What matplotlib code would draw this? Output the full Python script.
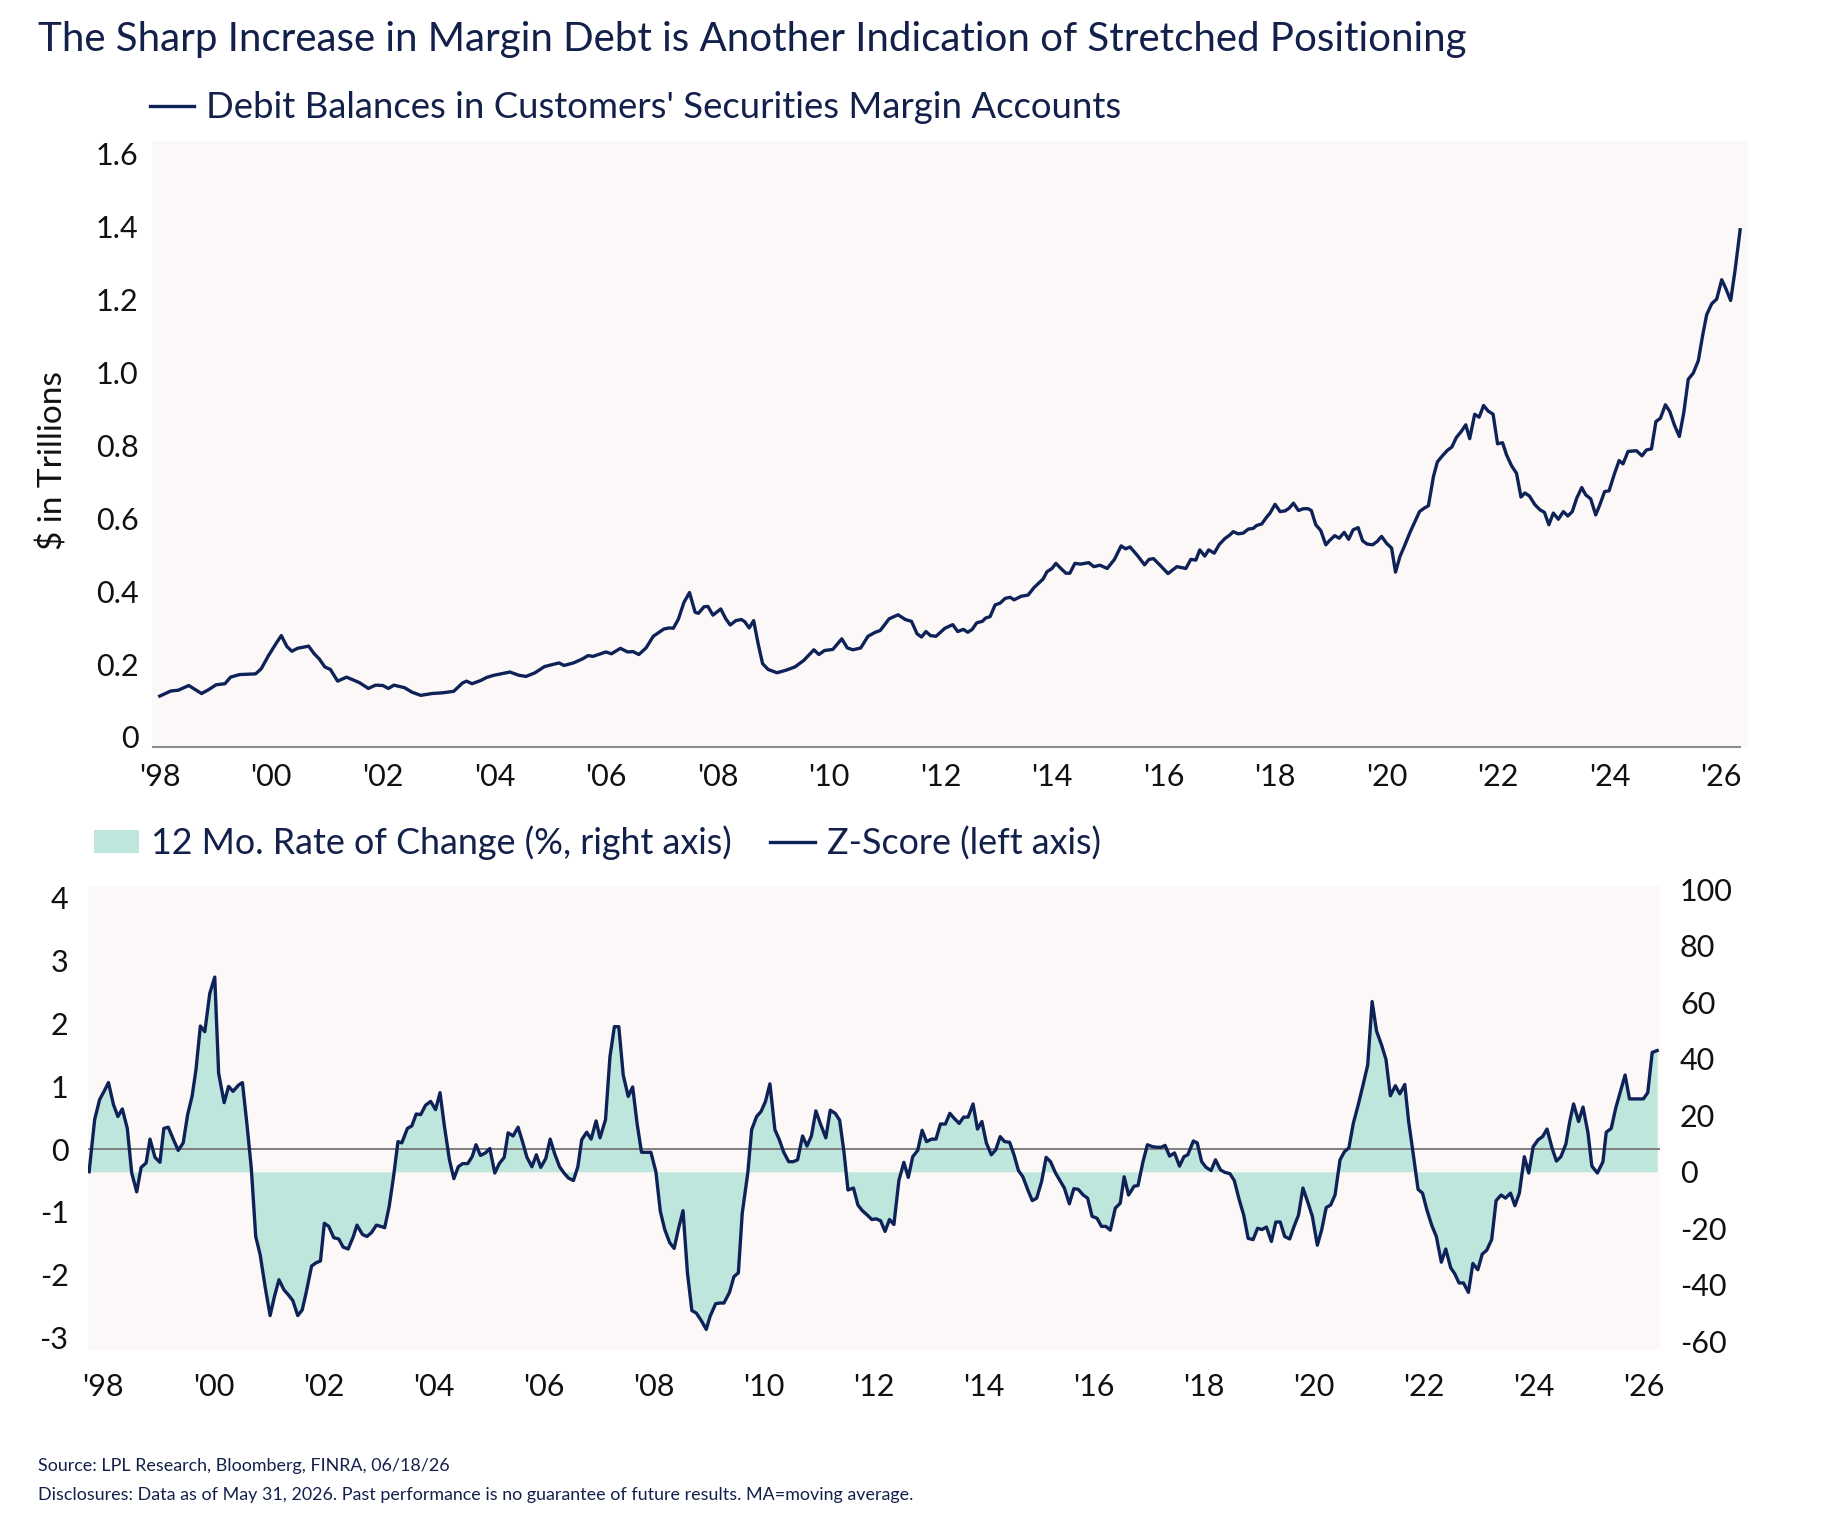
import matplotlib
matplotlib.use("Agg")
import matplotlib.pyplot as plt
from matplotlib.lines import Line2D
from matplotlib.patches import Patch

plt.rcParams['font.family'] = ['Lato', 'DejaVu Sans']

NAVY = '#0e2257'
TEAL = '#bfe6dd'
BG = '#fcf8f7'
TEXT = '#13204a'
TICK = '#111111'

# debit balances, $ trillions (decimal year, value)
debt_year = [
    1998.00, 1998.20, 1998.33, 1998.52, 1998.75, 1998.88, 1999.01, 1999.17, 1999.27, 1999.43,
    1999.72, 1999.82, 1999.95, 2000.08, 2000.18, 2000.28, 2000.37, 2000.47, 2000.67, 2000.77,
    2000.86, 2000.96, 2001.06, 2001.19, 2001.35, 2001.58, 2001.74, 2001.87, 2002.00, 2002.10,
    2002.20, 2002.39, 2002.52, 2002.68, 2002.88, 2003.07, 2003.27, 2003.43, 2003.50, 2003.60,
    2003.76, 2003.86, 2003.99, 2004.28, 2004.44, 2004.57, 2004.73, 2004.90, 2005.16, 2005.25,
    2005.42, 2005.58, 2005.68, 2005.77, 2006.00, 2006.10, 2006.26, 2006.39, 2006.49, 2006.59,
    2006.72, 2006.85, 2007.04, 2007.14, 2007.21, 2007.30, 2007.40, 2007.50, 2007.60, 2007.66,
    2007.76, 2007.83, 2007.92, 2008.06, 2008.15, 2008.23, 2008.33, 2008.43, 2008.49, 2008.57,
    2008.65, 2008.73, 2008.81, 2008.91, 2009.07, 2009.23, 2009.39, 2009.55, 2009.73, 2009.82,
    2009.92, 2010.07, 2010.23, 2010.33, 2010.43, 2010.57, 2010.70, 2010.83, 2010.92, 2011.08,
    2011.24, 2011.37, 2011.48, 2011.58, 2011.66, 2011.74, 2011.82, 2011.92, 2012.08, 2012.22,
    2012.31, 2012.41, 2012.49, 2012.57, 2012.65, 2012.75, 2012.81, 2012.89, 2012.98, 2013.07,
    2013.16, 2013.25, 2013.32, 2013.45, 2013.57, 2013.68, 2013.84, 2013.91, 2014.00, 2014.07,
    2014.16, 2014.25, 2014.32, 2014.41, 2014.51, 2014.66, 2014.75, 2014.86, 2014.99, 2015.12,
    2015.24, 2015.32, 2015.40, 2015.53, 2015.66, 2015.74, 2015.82, 2015.95, 2016.08, 2016.24,
    2016.40, 2016.49, 2016.58, 2016.65, 2016.74, 2016.81, 2016.91, 2017.00, 2017.10, 2017.19,
    2017.25, 2017.34, 2017.43, 2017.52, 2017.61, 2017.67, 2017.76, 2017.85, 2017.91, 2018.00,
    2018.09, 2018.18, 2018.25, 2018.33, 2018.42, 2018.51, 2018.59, 2018.65, 2018.73, 2018.82,
    2018.91, 2018.98, 2019.07, 2019.15, 2019.24, 2019.32, 2019.40, 2019.49, 2019.57, 2019.65,
    2019.75, 2019.83, 2019.91, 2020.00, 2020.09, 2020.16, 2020.24, 2020.33, 2020.42, 2020.51,
    2020.59, 2020.67, 2020.75, 2020.84, 2020.91, 2021.00, 2021.09, 2021.17, 2021.25, 2021.34,
    2021.42, 2021.49, 2021.58, 2021.66, 2021.74, 2021.82, 2021.91, 2021.99, 2022.08, 2022.15,
    2022.24, 2022.33, 2022.41, 2022.48, 2022.56, 2022.66, 2022.75, 2022.83, 2022.91, 2022.99,
    2023.08, 2023.17, 2023.25, 2023.33, 2023.41, 2023.50, 2023.57, 2023.66, 2023.75, 2023.82,
    2023.91, 2023.99, 2024.08, 2024.17, 2024.24, 2024.33, 2024.48, 2024.58, 2024.66, 2024.75,
    2024.83, 2024.91, 2025.00, 2025.08, 2025.16, 2025.25, 2025.33, 2025.41, 2025.50, 2025.59,
    2025.67, 2025.74, 2025.83, 2025.92, 2026.01, 2026.08, 2026.17, 2026.25, 2026.34,
]
debt_val = [
    0.112, 0.126, 0.128, 0.141, 0.119, 0.130, 0.143, 0.146, 0.164, 0.171,
    0.173, 0.187, 0.223, 0.255, 0.278, 0.248, 0.235, 0.243, 0.249, 0.228,
    0.214, 0.192, 0.185, 0.153, 0.164, 0.149, 0.133, 0.142, 0.141, 0.133,
    0.142, 0.135, 0.123, 0.114, 0.119, 0.121, 0.125, 0.148, 0.153, 0.146,
    0.155, 0.163, 0.169, 0.178, 0.169, 0.166, 0.176, 0.193, 0.203, 0.196,
    0.203, 0.214, 0.223, 0.221, 0.233, 0.228, 0.243, 0.233, 0.234, 0.226,
    0.244, 0.276, 0.296, 0.299, 0.298, 0.323, 0.369, 0.396, 0.342, 0.339,
    0.357, 0.358, 0.334, 0.351, 0.324, 0.307, 0.319, 0.322, 0.316, 0.299,
    0.319, 0.256, 0.201, 0.185, 0.176, 0.183, 0.192, 0.210, 0.239, 0.226,
    0.237, 0.240, 0.269, 0.244, 0.239, 0.244, 0.276, 0.287, 0.292, 0.324,
    0.335, 0.322, 0.317, 0.283, 0.274, 0.289, 0.278, 0.276, 0.298, 0.308,
    0.289, 0.295, 0.287, 0.295, 0.313, 0.317, 0.326, 0.330, 0.362, 0.367,
    0.380, 0.383, 0.376, 0.386, 0.389, 0.410, 0.433, 0.453, 0.462, 0.476,
    0.462, 0.449, 0.449, 0.476, 0.474, 0.478, 0.467, 0.471, 0.462, 0.487,
    0.524, 0.516, 0.521, 0.498, 0.472, 0.487, 0.489, 0.469, 0.448, 0.467,
    0.462, 0.487, 0.485, 0.513, 0.496, 0.513, 0.504, 0.528, 0.544, 0.554,
    0.563, 0.557, 0.559, 0.570, 0.572, 0.580, 0.584, 0.603, 0.614, 0.638,
    0.618, 0.620, 0.627, 0.641, 0.621, 0.626, 0.626, 0.621, 0.582, 0.566,
    0.527, 0.539, 0.552, 0.545, 0.561, 0.542, 0.568, 0.574, 0.538, 0.529,
    0.527, 0.536, 0.550, 0.531, 0.518, 0.452, 0.495, 0.527, 0.561, 0.591,
    0.618, 0.627, 0.634, 0.714, 0.754, 0.771, 0.786, 0.795, 0.821, 0.838,
    0.856, 0.818, 0.885, 0.877, 0.909, 0.894, 0.885, 0.804, 0.807, 0.774,
    0.744, 0.723, 0.658, 0.669, 0.661, 0.637, 0.623, 0.616, 0.582, 0.614,
    0.597, 0.618, 0.606, 0.618, 0.655, 0.684, 0.664, 0.653, 0.609, 0.635,
    0.673, 0.675, 0.719, 0.758, 0.749, 0.783, 0.785, 0.771, 0.787, 0.790,
    0.865, 0.874, 0.911, 0.892, 0.856, 0.824, 0.890, 0.981, 0.998, 1.032,
    1.103, 1.158, 1.188, 1.201, 1.254, 1.231, 1.197, 1.281, 1.391,
]

# z-score of the 12 month rate of change (decimal year, value)
z_year = [
    1998.00, 1998.10, 1998.19, 1998.27, 1998.35, 1998.44, 1998.52, 1998.60, 1998.69, 1998.77,
    1998.86, 1998.94, 1999.03, 1999.10, 1999.19, 1999.28, 1999.35, 1999.43, 1999.53, 1999.61,
    1999.70, 1999.78, 1999.86, 1999.93, 2000.01, 2000.09, 2000.18, 2000.27, 2000.34, 2000.44,
    2000.52, 2000.60, 2000.70, 2000.77, 2000.85, 2000.93, 2001.01, 2001.09, 2001.18, 2001.27,
    2001.35, 2001.43, 2001.52, 2001.60, 2001.68, 2001.77, 2001.85, 2001.92, 2002.02, 2002.10,
    2002.18, 2002.25, 2002.33, 2002.42, 2002.51, 2002.59, 2002.68, 2002.77, 2002.84, 2002.94,
    2003.02, 2003.10, 2003.19, 2003.27, 2003.34, 2003.42, 2003.50, 2003.58, 2003.65, 2003.75,
    2003.83, 2003.91, 2003.99, 2004.08, 2004.17, 2004.26, 2004.34, 2004.42, 2004.51, 2004.59,
    2004.67, 2004.75, 2004.84, 2004.92, 2004.99, 2005.07, 2005.16, 2005.24, 2005.33, 2005.41,
    2005.50, 2005.57, 2005.66, 2005.75, 2005.83, 2005.91, 2006.00, 2006.08, 2006.16, 2006.25,
    2006.33, 2006.41, 2006.50, 2006.58, 2006.66, 2006.75, 2006.83, 2006.90, 2006.99, 2007.07,
    2007.16, 2007.23, 2007.33, 2007.41, 2007.49, 2007.57, 2007.65, 2007.74, 2007.82, 2007.90,
    2007.98, 2008.07, 2008.15, 2008.24, 2008.32, 2008.40, 2008.49, 2008.57, 2008.65, 2008.73,
    2008.81, 2008.89, 2008.97, 2009.06, 2009.15, 2009.22, 2009.32, 2009.40, 2009.47, 2009.57,
    2009.65, 2009.73, 2009.80, 2009.90, 2009.97, 2010.06, 2010.14, 2010.22, 2010.30, 2010.39,
    2010.47, 2010.55, 2010.64, 2010.72, 2010.80, 2010.89, 2010.97, 2011.05, 2011.13, 2011.21,
    2011.31, 2011.39, 2011.48, 2011.56, 2011.64, 2011.71, 2011.81, 2011.89, 2011.97, 2012.06,
    2012.14, 2012.22, 2012.30, 2012.38, 2012.46, 2012.54, 2012.63, 2012.72, 2012.80, 2012.88,
    2012.97, 2013.05, 2013.13, 2013.22, 2013.30, 2013.38, 2013.47, 2013.55, 2013.63, 2013.72,
    2013.80, 2013.88, 2013.97, 2014.05, 2014.13, 2014.21, 2014.30, 2014.38, 2014.46, 2014.54,
    2014.63, 2014.71, 2014.79, 2014.87, 2014.96, 2015.04, 2015.12, 2015.21, 2015.29, 2015.37,
    2015.46, 2015.54, 2015.62, 2015.71, 2015.79, 2015.87, 2015.96, 2016.04, 2016.12, 2016.21,
    2016.29, 2016.37, 2016.45, 2016.54, 2016.63, 2016.70, 2016.78, 2016.88, 2016.95, 2017.04,
    2017.12, 2017.21, 2017.29, 2017.37, 2017.44, 2017.52, 2017.61, 2017.70, 2017.78, 2017.85,
    2017.95, 2018.02, 2018.10, 2018.18, 2018.27, 2018.35, 2018.44, 2018.52, 2018.61, 2018.69,
    2018.78, 2018.86, 2018.94, 2019.03, 2019.11, 2019.19, 2019.27, 2019.36, 2019.44, 2019.52,
    2019.60, 2019.69, 2019.77, 2019.85, 2019.93, 2020.02, 2020.10, 2020.19, 2020.27, 2020.35,
    2020.43, 2020.51, 2020.60, 2020.68, 2020.76, 2020.84, 2020.93, 2021.01, 2021.10, 2021.18,
    2021.26, 2021.35, 2021.43, 2021.51, 2021.60, 2021.68, 2021.77, 2021.84, 2021.92, 2022.01,
    2022.09, 2022.17, 2022.26, 2022.34, 2022.43, 2022.51, 2022.60, 2022.67, 2022.75, 2022.83,
    2022.92, 2023.00, 2023.09, 2023.17, 2023.25, 2023.34, 2023.42, 2023.51, 2023.59, 2023.68,
    2023.76, 2023.84, 2023.93, 2024.01, 2024.09, 2024.18, 2024.26, 2024.34, 2024.43, 2024.51,
    2024.59, 2024.68, 2024.75, 2024.82, 2024.91, 2024.99, 2025.08, 2025.15, 2025.25, 2025.35,
    2025.41, 2025.50, 2025.58, 2025.66, 2025.75, 2025.83, 2025.91, 2026.00, 2026.08, 2026.16,
    2026.24, 2026.33,
]
z_val = [
    -0.36, 0.47, 0.79, 0.92, 1.06, 0.71, 0.52, 0.64, 0.33, -0.38,
    -0.68, -0.29, -0.22, 0.16, -0.13, -0.21, 0.33, 0.35, 0.14, -0.02,
    0.10, 0.55, 0.84, 1.26, 1.96, 1.87, 2.48, 2.74, 1.21, 0.74,
    1.00, 0.92, 1.02, 1.06, 0.41, -0.30, -1.39, -1.68, -2.19, -2.65,
    -2.34, -2.08, -2.24, -2.32, -2.41, -2.65, -2.56, -2.29, -1.86, -1.81,
    -1.78, -1.18, -1.23, -1.41, -1.43, -1.56, -1.59, -1.40, -1.21, -1.36,
    -1.39, -1.33, -1.21, -1.23, -1.25, -0.92, -0.44, 0.12, 0.10, 0.33,
    0.37, 0.56, 0.55, 0.70, 0.76, 0.63, 0.90, 0.36, -0.17, -0.47,
    -0.28, -0.23, -0.23, -0.12, 0.07, -0.10, -0.06, 0.01, -0.38, -0.23,
    -0.13, 0.26, 0.21, 0.35, 0.12, -0.13, -0.28, -0.09, -0.29, -0.15,
    0.16, -0.07, -0.28, -0.38, -0.46, -0.50, -0.28, 0.15, 0.27, 0.16,
    0.45, 0.18, 0.47, 1.47, 1.95, 1.95, 1.18, 0.84, 0.99, 0.41,
    -0.05, -0.05, -0.05, -0.36, -0.99, -1.28, -1.49, -1.58, -1.26, -0.98,
    -1.97, -2.57, -2.61, -2.73, -2.87, -2.66, -2.46, -2.45, -2.45, -2.28,
    -2.03, -1.97, -1.02, -0.38, 0.31, 0.52, 0.60, 0.76, 1.04, 0.31,
    0.15, -0.05, -0.20, -0.20, -0.17, 0.21, 0.05, 0.21, 0.61, 0.41,
    0.18, 0.62, 0.57, 0.46, -0.06, -0.65, -0.62, -0.89, -0.98, -1.05,
    -1.12, -1.11, -1.14, -1.31, -1.12, -1.20, -0.50, -0.21, -0.45, -0.12,
    -0.02, 0.30, 0.12, 0.16, 0.16, 0.40, 0.40, 0.57, 0.49, 0.41,
    0.51, 0.51, 0.72, 0.32, 0.44, 0.10, -0.09, -0.01, 0.20, 0.12,
    0.11, -0.09, -0.34, -0.44, -0.65, -0.82, -0.78, -0.51, -0.13, -0.20,
    -0.38, -0.50, -0.62, -0.87, -0.63, -0.64, -0.73, -0.78, -1.07, -1.10,
    -1.23, -1.23, -1.29, -0.94, -0.86, -0.44, -0.73, -0.59, -0.58, -0.20,
    0.07, 0.04, 0.03, 0.03, 0.06, -0.11, -0.06, -0.27, -0.12, -0.09,
    0.13, 0.10, -0.20, -0.29, -0.34, -0.17, -0.33, -0.37, -0.39, -0.50,
    -0.81, -1.05, -1.42, -1.44, -1.26, -1.28, -1.24, -1.47, -1.16, -1.16,
    -1.39, -1.43, -1.23, -1.05, -0.62, -0.85, -1.07, -1.53, -1.28, -0.93,
    -0.89, -0.73, -0.17, -0.04, 0.02, 0.41, 0.71, 1.00, 1.34, 2.35,
    1.88, 1.66, 1.43, 0.85, 1.01, 0.88, 1.03, 0.44, -0.06, -0.64,
    -0.70, -0.97, -1.22, -1.39, -1.80, -1.59, -1.89, -1.98, -2.13, -2.13,
    -2.28, -1.82, -1.92, -1.67, -1.61, -1.44, -0.82, -0.73, -0.78, -0.70,
    -0.90, -0.70, -0.12, -0.38, 0.04, 0.15, 0.20, 0.32, 0.02, -0.19,
    -0.12, 0.08, 0.44, 0.72, 0.44, 0.67, 0.26, -0.27, -0.38, -0.20,
    0.27, 0.33, 0.65, 0.90, 1.18, 0.80, 0.80, 0.80, 0.80, 0.90,
    1.54, 1.57,
]

# the right axis is the same series in % terms: roc = ROC_MEAN + ROC_STD * z
ROC_MEAN = 8.0
ROC_STD = 22.3

debt_ticks = [0, 0.2, 0.4, 0.6, 0.8, 1.0, 1.2, 1.4, 1.6]
debt_labels = ['0', '0.2', '0.4', '0.6', '0.8', '1.0', '1.2', '1.4', '1.6']
z_ticks = [-3, -2, -1, 0, 1, 2, 3, 4]
roc_ticks = [-60, -40, -20, 0, 20, 40, 60, 80, 100]
years = list(range(1998, 2027, 2))
year_labels = ["'%02d" % (y % 100) for y in years]

title = 'The Sharp Increase in Margin Debt is Another Indication of Stretched Positioning'
debt_name = "Debit Balances in Customers' Securities Margin Accounts"
roc_name = '12 Mo. Rate of Change (%, right axis)'
z_name = 'Z-Score (left axis)'

W, H = 1840, 1524
fig = plt.figure(figsize=(W / 100, H / 100), dpi=100)


def px(x, y):
    # pixel position in the picture -> figure fraction
    return x / W, 1 - y / H


###############################
# top panel: margin debt level
###############################
ax1 = fig.add_axes([152.5 / W, 1 - 747.5 / H, 1596 / W, 606.7 / H])
ax1.set_facecolor(BG)
ax1.plot(debt_year, debt_val, color=NAVY, lw=2.4, solid_joinstyle='round')
ax1.set_xlim(1997.87, 2026.49)
ax1.set_ylim(-0.029, 1.635)
for s in ['top', 'right', 'left']:
    ax1.spines[s].set_visible(False)
ax1.spines['bottom'].set_color('#8c8c8c')
ax1.spines['bottom'].set_linewidth(1.5)
ax1.spines['bottom'].set_bounds(1997.87, 2026.34)
ax1.set_yticks(debt_ticks)
ax1.set_yticklabels(debt_labels)
ax1.set_xticks(years)
ax1.set_xticklabels(year_labels)
ax1.tick_params(length=0, labelsize=22, labelcolor=TICK)
ax1.tick_params(axis='y', pad=10)
ax1.tick_params(axis='x', pad=11)

###############################
# bottom panel: z-score and 12 mo. change
###############################
ax2 = fig.add_axes([88 / W, 1 - 1349.5 / H, 1572.5 / W, 463.5 / H])
ax2r = ax2.twinx()
ax2.set_zorder(ax2r.get_zorder() + 1)
ax2.patch.set_visible(False)
ax2r.patch.set_visible(True)
ax2r.set_facecolor(BG)

roc_val = [ROC_MEAN + ROC_STD * z for z in z_val]
ax2r.fill_between(z_year, roc_val, 0, color=TEAL, lw=0)
ax2.axhline(0, color='#7f7f7f', lw=1.4, zorder=1)
ax2.plot(z_year, z_val, color=NAVY, lw=2.4, solid_joinstyle='round', zorder=3)

ax2.set_xlim(1997.98, 2026.39)
ax2.set_ylim(-3.19, 4.19)
ax2r.set_ylim(-62.9, 101.2)
for a in (ax2, ax2r):
    for s in a.spines.values():
        s.set_visible(False)
ax2.set_yticks(z_ticks)
ax2.set_yticklabels([str(t) for t in z_ticks])
ax2r.set_yticks(roc_ticks)
ax2r.set_yticklabels([str(t) for t in roc_ticks])

# the year labels below this panel sit a little right of the data dates
bx = [1998 + (103.3 + (y - 1998) * 55.0 - 89) / 55.35 for y in years]
ax2.set_xticks(bx)
ax2.set_xticklabels(year_labels)
ax2.tick_params(length=0, labelsize=22, labelcolor=TICK)
ax2.tick_params(axis='y', pad=14)
ax2.tick_params(axis='x', pad=17)
ax2r.tick_params(length=0, labelsize=22, labelcolor=TICK, pad=14)

###############################
# text
###############################
fig.text(*px(38, 39), title, fontsize=29, color=TEXT, va='center', ha='left')

fig.legend([Line2D([], [], color=NAVY, lw=2.4)], [debt_name],
           loc='center left', bbox_to_anchor=px(150, 108), frameon=False,
           fontsize=26.3, labelcolor=TEXT, handlelength=1.2, handletextpad=0.33,
           borderpad=0, borderaxespad=0)

fig.legend([Patch(facecolor=TEAL, edgecolor='none'), Line2D([], [], color=NAVY, lw=2.4)],
           [roc_name, z_name], ncol=2,
           loc='center left', bbox_to_anchor=px(94, 843), frameon=False,
           fontsize=25.8, labelcolor=TEXT, handlelength=1.25, handleheight=0.6,
           handletextpad=0.35, columnspacing=1.05, borderpad=0, borderaxespad=0)

fig.text(*px(53, 461), r'\$ in Trillions', rotation=90, fontsize=24, color=TICK,
         va='center', ha='center')

fig.text(*px(38, 1466), 'Source: LPL Research, Bloomberg, FINRA, 06/18/26',
         fontsize=12.9, color=TEXT, va='center', ha='left')
fig.text(*px(38, 1495), 'Disclosures: Data as of May 31, 2026. Past performance is no '
         'guarantee of future results. MA=moving average.',
         fontsize=12.9, color=TEXT, va='center', ha='left')

fig.savefig('out.png', dpi=100, facecolor='white')
